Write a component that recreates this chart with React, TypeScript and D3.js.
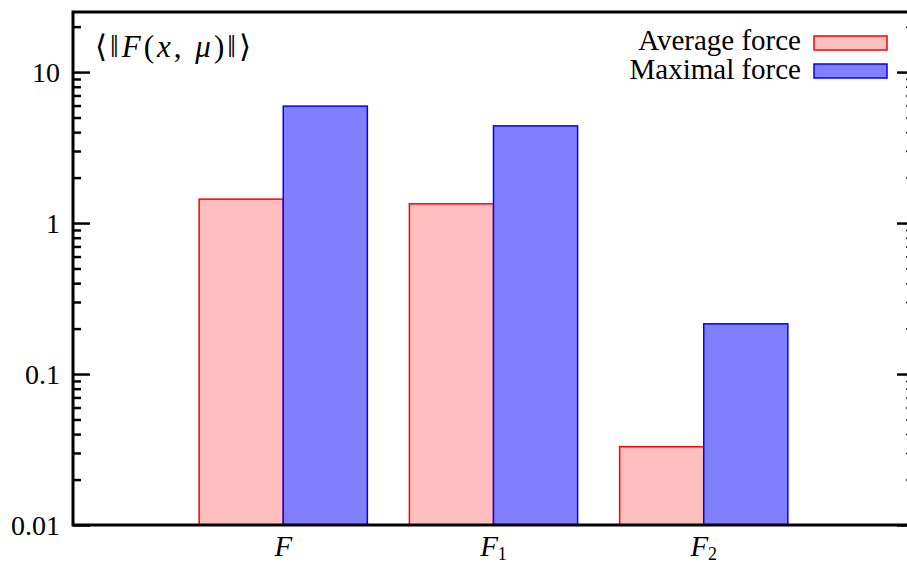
import * as d3 from "d3";
import React, { useRef, useEffect } from "react";

const width = 907;
const height = 565;
// plot area; the right edge sits just outside the picture, as in the original
const margin = { top: 12, right: -7, bottom: 40, left: 73 };

const categories = ["F", "F1", "F2"];
const categorySubs = ["", "1", "2"];
const averageForce = [1.44, 1.34, 0.033];
const maximalForce = [5.95, 4.4, 0.215];
const majorTicks = [0.01, 0.1, 1, 10];
const tickLabels = ["0.01", "0.1", "1", "10"];

const font = "'Liberation Serif', 'DejaVu Serif', serif";
const pinkFill = "#ffbfbf";
const blueFill = "#8080ff";

const App = () => {
  const leftAxisRef = useRef(null);
  const rightAxisRef = useRef(null);

  const x0 = margin.left;
  const x1 = width - margin.right;
  const yTop = margin.top;
  const yBottom = height - margin.bottom;

  const xScale = d3.scaleLinear().domain([0, 4]).range([x0, x1]);
  const yScale = d3.scaleLog().domain([0.01, 25]).range([yBottom, yTop]);

  // minor ticks: 2..9 of every decade, within the domain
  const minorTicks = [];
  for (const dec of [0.01, 0.1, 1, 10]) {
    for (let k = 2; k <= 9; k++) {
      const v = +(dec * k).toPrecision(3);
      if (v <= 25) minorTicks.push(v);
    }
  }

  useEffect(() => {
    const styleAxis = (g, w) => {
      g.select(".domain").remove();
      g.selectAll("text").remove();
      g.selectAll("line").attr("stroke", "black").attr("stroke-width", w);
    };
    if (leftAxisRef.current) {
      const g = d3.select(leftAxisRef.current);
      g.selectAll("*").remove();
      g.append("g")
        .call(d3.axisRight(yScale).tickValues(majorTicks).tickSize(17))
        .call((s) => styleAxis(s, 2.5));
      g.append("g")
        .call(d3.axisRight(yScale).tickValues(minorTicks).tickSize(8))
        .call((s) => styleAxis(s, 2.5));
    }
    if (rightAxisRef.current) {
      const g = d3.select(rightAxisRef.current);
      g.selectAll("*").remove();
      g.append("g")
        .call(d3.axisLeft(yScale).tickValues(majorTicks).tickSize(17))
        .call((s) => styleAxis(s, 2.5));
      g.append("g")
        .call(d3.axisLeft(yScale).tickValues(minorTicks).tickSize(8))
        .call((s) => styleAxis(s, 1.5));
    }
  }, []);

  const barW = xScale(0.4) - xScale(0);

  const bars = categories.map((c, i) => {
    const cx = xScale(i + 1);
    return (
      <g key={c}>
        <rect
          x={cx - barW}
          y={yScale(averageForce[i])}
          width={barW}
          height={yBottom - yScale(averageForce[i])}
          fill={pinkFill}
          stroke="red"
          strokeWidth={1.5}
        />
        <rect
          x={cx}
          y={yScale(maximalForce[i])}
          width={barW}
          height={yBottom - yScale(maximalForce[i])}
          fill={blueFill}
          stroke="blue"
          strokeWidth={1.5}
        />
      </g>
    );
  });

  return (
    <svg
      width={width}
      height={height}
      style={{ position: "absolute", left: 0, top: 0, background: "white", fontFamily: font }}
    >
      {bars}
      <g ref={leftAxisRef} transform={`translate(${x0}, 0)`} />
      <g ref={rightAxisRef} transform={`translate(${x1}, 0)`} />
      {/* frame */}
      <rect
        x={x0}
        y={yTop}
        width={x1 - x0}
        height={yBottom - yTop}
        fill="none"
        stroke="black"
        strokeWidth={3}
      />
      {majorTicks.map((t, i) => (
        <text
          key={t}
          x={60}
          y={yScale(t)}
          dy="0.35em"
          textAnchor="end"
          fontSize={28}
        >
          {tickLabels[i]}
        </text>
      ))}
      {categories.map((c, i) => (
        <text
          key={c}
          x={xScale(i + 1)}
          y={556}
          textAnchor="middle"
          fontSize={29}
        >
          <tspan fontStyle="italic">F</tspan>
          {categorySubs[i] && (
            <tspan fontSize={18} dy={4}>
              {categorySubs[i]}
            </tspan>
          )}
        </text>
      ))}
      <text x={95} y={57} fontSize={31} letterSpacing={3}>
        ⟨‖<tspan fontStyle="italic">F</tspan>(<tspan fontStyle="italic">x</tspan>, <tspan fontStyle="italic">μ</tspan>)‖⟩
      </text>
      {/* legend */}
      <text x={801} y={50} textAnchor="end" fontSize={29}>
        Average force
      </text>
      <rect x={814} y={36} width={73} height={14} fill={pinkFill} stroke="red" strokeWidth={1.5} />
      <text x={801} y={79} textAnchor="end" fontSize={29}>
        Maximal force
      </text>
      <rect x={814} y={64} width={73} height={14} fill={blueFill} stroke="blue" strokeWidth={1.5} />
    </svg>
  );
};

export default App;
